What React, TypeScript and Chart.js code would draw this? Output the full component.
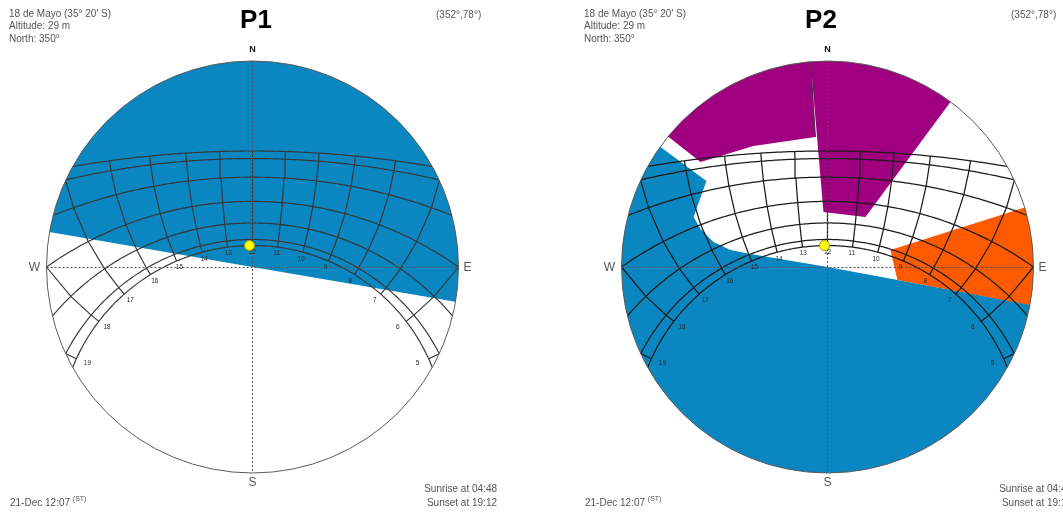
import React, { useEffect, useRef } from 'react';
import { Chart, registerables } from 'chart.js';

Chart.register(...registerables);

// ---------- data ----------
const LATITUDE = -35.33; // 35° 20' S
// declination of the 21st of each month: Dec, Jan/Nov, Feb/Oct, Mar/Sep, Apr/Aug, May/Jul, Jun
const DECLINATIONS = [-23.44, -20.1, -11.2, 0.0, 11.8, 20.2, 23.44];
const HOURS = [5, 6, 7, 8, 9, 10, 11, 12, 13, 14, 15, 16, 17, 18, 19];
const HOUR_LABELS = ['5', '6', '7', '8', '9', '10', '11', '12', '13', '14', '15', '16', '17', '18', '19'];
const LABEL_DECLINATION = -27;
const SUN_AZ_ALT = [352, 78];

// shading masks as [azimuth°, altitude°] vertices (negative altitude = beyond the horizon)
const P1_BLUE = [[279.8, 0], [0, 90], [99.7, 0], [99.7, -20], [60, -20], [20, -20], [340, -20], [300, -20], [279.8, -20]];
const P2_BLUE = [[100.5, 0], [0, 90], [279.6, 48.5], [279.9, 38.9], [282.4, 30.9], [286.7, 24.5], [290.5, 20.5], [305.4, 18.4], [305.7, 0], [305.7, -20], [250, -20], [180, -20], [120, -20], [100.5, -20]];
const P2_ORANGE = [[74.9, 54.9], [73.2, 0], [73.2, -20], [87, -20], [100.6, -20], [100.6, 0], [100.5, 51.9]];
const P2_PURPLE_A = [[309.3, 0], [309.6, 12.7], [328.5, 20.9], [354.7, 25.3], [355.3, 0], [355.3, -20], [332, -20], [309.3, -20]];
const P2_PURPLE_B = [[355.3, 0], [355.8, 60.0], [37.2, 56.1], [36.7, 0], [36.7, -20], [16, -20], [355.3, -20]];
const P2_DIVIDER = [[355.3, 0], [354.7, 25.3]];

const TITLES = ['P1', 'P2'];
const INFO_LINES = ["18 de Mayo (35° 20' S)", 'Altitude: 29 m', 'North: 350°'];
const SUN_TEXT = '(352°,78°)';
const DATE_TEXT = '21-Dec 12:07';
const DATE_SUP = '(ST)';
const SUNRISE_TEXT = 'Sunrise at 04:48';
const SUNSET_TEXT = 'Sunset at 19:12';
const COMPASS = ['N', 'E', 'S', 'W'];

// ---------- styles ----------
const BLUE = '#0A86C0';
const PURPLE = '#A0007F';
const ORANGE = '#FF5A00';
const FONT = '"Liberation Sans", Arial, sans-serif';
const PANEL_W = 575;
const PANEL_H = 515;
const CX = 252.5;
const CY = 267;
const RAD = 206;

const D = Math.PI / 180;

function project(az: number, alt: number) {
  const r = Math.tan(((90 - alt) / 2) * D);
  return { x: r * Math.sin(az * D), y: r * Math.cos(az * D) };
}

function projectSun(dec: number, ha: number) {
  const phi = LATITUDE * D;
  const d = dec * D;
  const h = ha * D;
  const e = -Math.cos(d) * Math.sin(h);
  const n = Math.cos(phi) * Math.sin(d) - Math.sin(phi) * Math.cos(d) * Math.cos(h);
  const u = Math.sin(phi) * Math.sin(d) + Math.cos(phi) * Math.cos(d) * Math.cos(h);
  return { x: e / (1 + u), y: n / (1 + u), alt: Math.asin(u) / D };
}

function dayArc(dec: number) {
  const pts: { x: number; y: number }[] = [];
  for (let ha = -180; ha <= 180; ha += 1) {
    const p = projectSun(dec, ha);
    if (p.alt > -12) pts.push({ x: p.x, y: p.y });
  }
  return pts;
}

function hourLine(hour: number) {
  const pts: { x: number; y: number }[] = [];
  for (const dec of DECLINATIONS) {
    const p = projectSun(dec, (hour - 12) * 15);
    pts.push({ x: p.x, y: p.y });
    if (p.alt < 0) break;
  }
  return pts;
}

type Mask = { points: number[][]; color: string };
type Panel = { title: string; titleX: number; masks: Mask[]; dividers: number[][][]; grid: string; gridWidth: number };

const PANELS: Panel[] = [
  { title: TITLES[0], titleX: 256, masks: [{ points: P1_BLUE, color: BLUE }], dividers: [], grid: '#363636', gridWidth: 1.15 },
  {
    title: TITLES[1],
    titleX: 246,
    masks: [
      { points: P2_BLUE, color: BLUE },
      { points: P2_ORANGE, color: ORANGE },
      { points: P2_PURPLE_A, color: PURPLE },
      { points: P2_PURPLE_B, color: PURPLE },
    ],
    dividers: [P2_DIVIDER],
    grid: '#1c1c1c',
    gridWidth: 1.25,
  },
];

function geom(chart: any) {
  const xs = chart.scales.x;
  const ys = chart.scales.y;
  const cx = xs.getPixelForValue(0);
  const cy = ys.getPixelForValue(0);
  const R = xs.getPixelForValue(1) - cx;
  return { cx, cy, R, px: (v: number) => xs.getPixelForValue(v), py: (v: number) => ys.getPixelForValue(v) };
}

function decorPlugin(panel: Panel) {
  return {
    id: 'sunpathDecor',
    beforeDatasetsDraw(chart: any) {
      const { ctx } = chart;
      const g = geom(chart);
      ctx.save();
      ctx.beginPath();
      ctx.arc(g.cx, g.cy, g.R, 0, Math.PI * 2);
      ctx.clip();
    },
    beforeDatasetDraw(chart: any, args: any) {
      if (args.index !== chart.data.datasets.length - 1) return;
      const { ctx } = chart;
      ctx.restore();
      const g = geom(chart);
      // axes
      ctx.save();
      ctx.strokeStyle = '#555';
      ctx.lineWidth = 1;
      ctx.setLineDash([2, 2]);
      const ax = Math.round(g.cx - 0.5) + 0.5;
      const ay = Math.round(g.cy - 0.5) + 0.5;
      ctx.beginPath();
      ctx.moveTo(ax, g.cy - g.R);
      ctx.lineTo(ax, g.cy + g.R);
      ctx.moveTo(g.cx - g.R, ay);
      ctx.lineTo(g.cx + g.R, ay);
      ctx.stroke();
      ctx.restore();
      // horizon circle
      ctx.save();
      ctx.strokeStyle = '#5a5a5a';
      ctx.lineWidth = 1;
      ctx.beginPath();
      ctx.arc(g.cx, g.cy, g.R, 0, Math.PI * 2);
      ctx.stroke();
      ctx.restore();
      // hour labels
      ctx.save();
      ctx.fillStyle = '#2a2a2a';
      ctx.font = `6.5px ${FONT}`;
      ctx.textAlign = 'center';
      ctx.textBaseline = 'middle';
      HOURS.forEach((h, i) => {
        const p = projectSun(LABEL_DECLINATION, (h - 12) * 15);
        ctx.fillText(HOUR_LABELS[i], g.px(p.x), g.py(p.y));
      });
      ctx.restore();
      ctx.save();
    },
    afterDatasetsDraw(chart: any) {
      const { ctx } = chart;
      ctx.restore();
      const g = geom(chart);
      ctx.save();
      // compass
      ctx.textAlign = 'center';
      ctx.textBaseline = 'middle';
      ctx.fillStyle = '#111';
      ctx.font = `bold 9px ${FONT}`;
      ctx.fillText(COMPASS[0], g.cx, g.cy - g.R - 11);
      ctx.fillStyle = '#555';
      ctx.font = `12px ${FONT}`;
      ctx.fillText(COMPASS[1], g.cx + g.R + 9, g.cy + 1);
      ctx.fillText(COMPASS[2], g.cx, g.cy + g.R + 10);
      ctx.fillText(COMPASS[3], g.cx - g.R - 12, g.cy + 1);
      // title
      ctx.fillStyle = '#000';
      ctx.font = `bold 26px ${FONT}`;
      ctx.fillText(panel.title, panel.titleX, 21);
      // info
      ctx.textAlign = 'left';
      ctx.fillStyle = '#555';
      ctx.font = `10px ${FONT}`;
      INFO_LINES.forEach((t, i) => ctx.fillText(t, 9, 14 + i * 12.5));
      ctx.fillText(SUN_TEXT, 436, 15);
      ctx.fillText(DATE_TEXT, 10, 503);
      const w = ctx.measureText(DATE_TEXT + ' ').width;
      ctx.font = `7px ${FONT}`;
      ctx.fillText(DATE_SUP, 10 + w, 499);
      ctx.font = `10px ${FONT}`;
      ctx.textAlign = 'right';
      ctx.fillText(SUNRISE_TEXT, 497, 489);
      ctx.fillText(SUNSET_TEXT, 497, 503);
      ctx.restore();
    },
  };
}

function buildConfig(panel: Panel): any {
  const datasets: any[] = [];
  panel.masks.forEach((m, i) => {
    datasets.push({
      data: m.points.map(([az, alt]) => project(az, alt)),
      showLine: true,
      fill: 'shape',
      backgroundColor: m.color,
      borderColor: 'rgba(0,0,0,0)',
      borderWidth: 0,
      pointRadius: 0,
      order: 40 - i,
    });
  });
  DECLINATIONS.forEach((dec) => {
    datasets.push({ data: dayArc(dec), showLine: true, fill: false, borderColor: panel.grid, borderWidth: panel.gridWidth, pointRadius: 0, order: 10 });
  });
  HOURS.forEach((h) => {
    datasets.push({ data: hourLine(h), showLine: true, fill: false, borderColor: panel.grid, borderWidth: panel.gridWidth, pointRadius: 0, order: 10 });
  });
  panel.dividers.forEach((dv) => {
    datasets.push({ data: dv.map(([az, alt]) => project(az, alt)), showLine: true, fill: false, borderColor: '#333', borderWidth: 1, pointRadius: 0, order: 9 });
  });
  datasets.push({
    data: [project(SUN_AZ_ALT[0], SUN_AZ_ALT[1])],
    showLine: false,
    pointRadius: 5,
    pointBackgroundColor: '#FFFF00',
    pointBorderColor: '#9a9a00',
    pointBorderWidth: 1,
    order: 0,
  });
  return {
    type: 'scatter',
    data: { datasets },
    options: {
      animation: false,
      responsive: false,
      maintainAspectRatio: false,
      devicePixelRatio: 1,
      events: [],
      layout: { padding: { left: CX - RAD, right: PANEL_W - CX - RAD, top: CY - RAD, bottom: PANEL_H - CY - RAD } },
      scales: {
        x: { type: 'linear', min: -1, max: 1, display: false },
        y: { type: 'linear', min: -1, max: 1, display: false },
      },
      plugins: { legend: { display: false }, tooltip: { enabled: false }, title: { display: false } },
    },
    plugins: [decorPlugin(panel)],
  };
}

function SunPathPanel({ panel, left }: { panel: Panel; left: number }) {
  const ref = useRef<HTMLCanvasElement>(null);
  useEffect(() => {
    if (!ref.current) return;
    const chart = new Chart(ref.current, buildConfig(panel));
    return () => chart.destroy();
  }, [panel]);
  return (
    <div style={{ position: 'absolute', left, top: 0, width: PANEL_W, height: PANEL_H }}>
      <canvas ref={ref} width={PANEL_W} height={PANEL_H} style={{ display: 'block' }} />
    </div>
  );
}

export default function App() {
  return (
    <div style={{ position: 'fixed', left: 0, top: 0, width: 1063, height: 515, overflow: 'hidden', background: '#fff' }}>
      <SunPathPanel panel={PANELS[0]} left={0} />
      <SunPathPanel panel={PANELS[1]} left={PANEL_W} />
    </div>
  );
}
